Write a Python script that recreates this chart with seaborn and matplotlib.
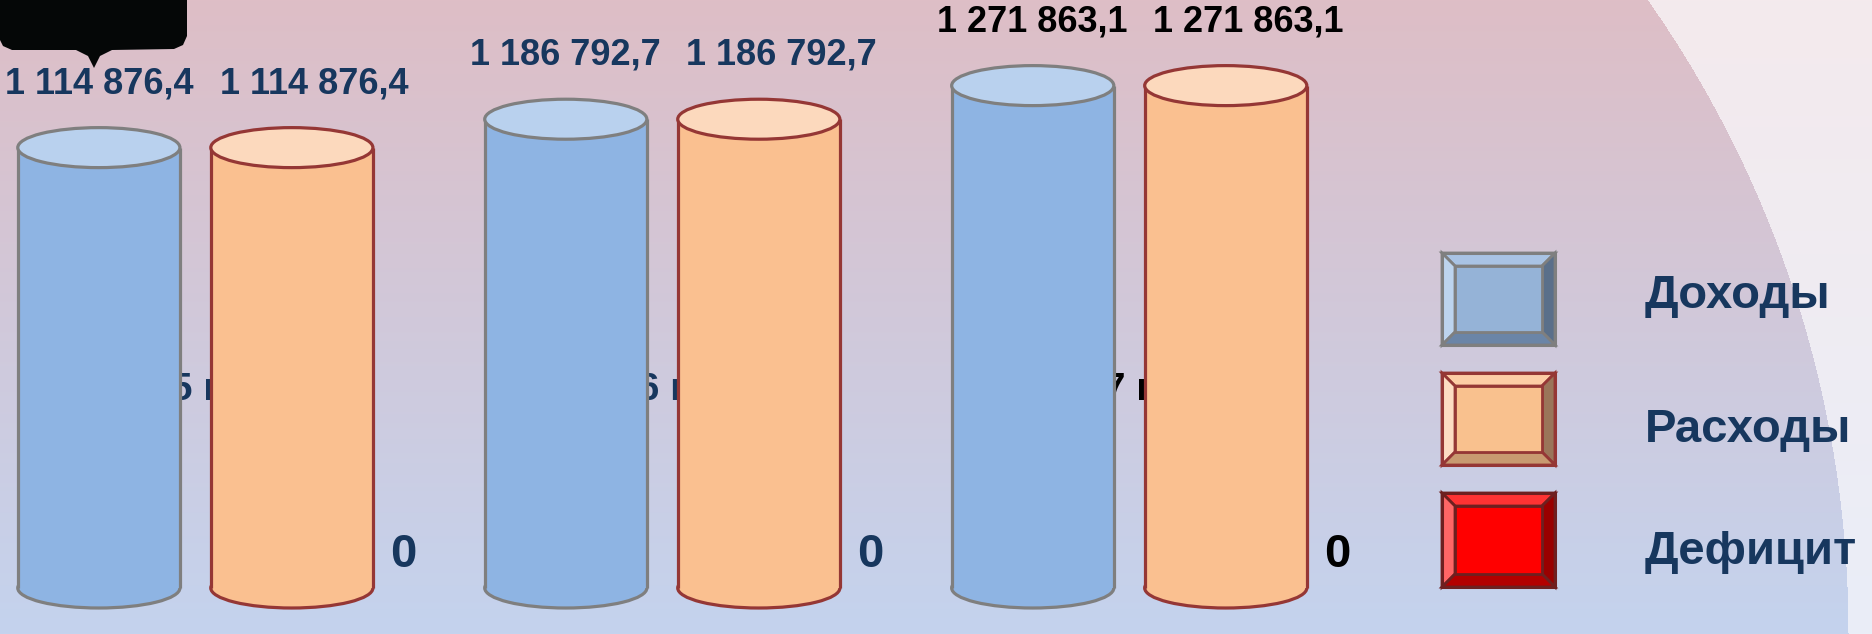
import numpy as np
import pandas as pd
import matplotlib
matplotlib.use("Agg")
from matplotlib import pyplot as plt
from matplotlib.patches import Ellipse, Polygon, Rectangle
from matplotlib.transforms import blended_transform_factory
import seaborn as sns

# --- data ---
years = ["2025 г.", "2026 г.", "2027 г."]
series = ["Доходы", "Расходы", "Дефицит"]
income = [1114876.4, 1186792.7, 1271863.1]
expenses = [1114876.4, 1186792.7, 1271863.1]
deficit = [0.0, 0.0, 0.0]
values = {"Доходы": income, "Расходы": expenses, "Дефицит": deficit}


def fmt(v):
    # russian style number: 1 114 876,4
    if v == 0:
        return "0"
    return f"{v:,.1f}".replace(",", " ").replace(".", ",")


df = pd.DataFrame({
    "Год": years * len(series),
    "Показатель": [s for s in series for _ in years],
    "Сумма": income + expenses + deficit,
})

sns.set_theme(style="white")
plt.rcParams["font.family"] = ["Liberation Sans", "DejaVu Sans"]

W, H = 1872, 634
fig = plt.figure(figsize=(W / 100, H / 100), dpi=100)

# background gradient with light curved area on the right
bg = fig.add_axes([0, 0, 1, 1])
bg.axis("off")
yy, xx = np.mgrid[0:H, 0:W]
t = (yy / (H - 1))[..., None]
img = np.array([222, 190, 198]) / 255 * (1 - t) + np.array([196, 211, 238]) / 255 * t
light = np.array([244, 234, 237]) / 255 * (1 - t) + np.array([234, 238, 248]) / 255 * t
outside = (xx - 748) ** 2 + (yy - 633) ** 2 > 1100 ** 2
img[outside] = light[outside]
bg.imshow(img, extent=(0, W, H, 0), aspect="auto")
bg.set_xlim(0, W)
bg.set_ylim(H, 0)

# main chart
styles = {
    "Доходы": dict(body="#8EB4E3", top="#B9D1EE", edge="#7F7F7F", dx=0),
    "Расходы": dict(body="#FAC090", top="#FCD9BD", edge="#953735", dx=16),
    "Дефицит": dict(body="#FF0000", top="#FF5050", edge="#6B2020", dx=0),
}
label_colors = ["#17375E", "#17375E", "black"]

ax = fig.add_axes([0, 0, 1, 1])
ax.set_facecolor("none")
sns.barplot(data=df, x="Год", y="Сумма", hue="Показатель", hue_order=series,
            palette={k: v["body"] for k, v in styles.items()}, saturation=1,
            width=1.24, gap=0.16, linewidth=0, errorbar=None, legend=False, ax=ax)
ax.set_xlim(-0.625, 3.384)
ymin, ymax = -116456, 1488600
ax.set_ylim(ymin, ymax)
ax.set_axis_off()

eh = 40 * (ymax - ymin) / H  # ellipse height, ~40 px
lw = 2.3

for name, cont in zip(series, ax.containers):
    st = styles[name]
    for i, rect in enumerate(cont.patches):
        x0, w, h = rect.get_x(), rect.get_width(), rect.get_height()
        cx = x0 + w / 2
        v = values[name][i]
        if h <= 0:
            ax.annotate(fmt(v), (x0, 0), xytext=(0, 24), textcoords="offset points",
                        ha="center", va="center", fontsize=34, fontweight="bold",
                        color=label_colors[i], zorder=6)
            continue
        rect.set_zorder(3)
        ax.add_patch(Ellipse((cx, 0), w, eh, fc=st["body"], ec=st["edge"], lw=lw, zorder=2))
        ax.plot([x0, x0], [0, h], color=st["edge"], lw=lw, zorder=4, solid_capstyle="butt")
        ax.plot([x0 + w, x0 + w], [0, h], color=st["edge"], lw=lw, zorder=4, solid_capstyle="butt")
        ax.add_patch(Ellipse((cx, h), w, eh, fc=st["top"], ec=st["edge"], lw=lw, zorder=5))
        ax.annotate(fmt(v), (cx, h), xytext=(st["dx"], 46), textcoords="offset points",
                    ha="center", va="center", fontsize=26, fontweight="bold",
                    color=label_colors[i], zorder=6)

# year labels sit behind the cylinders
trans = blended_transform_factory(ax.transData, ax.transAxes)
for i, yr in enumerate(years):
    ax.text(i - 0.27, 0.385, yr, transform=trans, ha="center", va="center",
            fontsize=28, fontweight="bold", color=label_colors[i], zorder=1)

# overlay in pixel coords: legend and top-left black shape
lg = fig.add_axes([0, 0, 1, 1])
lg.set_xlim(0, W)
lg.set_ylim(H, 0)
lg.axis("off")
lg.set_facecolor("none")

shape = [(0, 0), (187, 0), (187, 36), (183, 45), (174, 49), (112, 50), (100, 56),
         (94, 68), (88, 56), (76, 50), (12, 50), (3, 46), (0, 40)]
lg.add_patch(Polygon(shape, closed=True, fc="#050707", ec="none"))

bevel = {
    "Доходы": dict(face="#95B3D7", top="#A9C3E4", left="#BDD4EE", right="#5A6F8A",
                   bottom="#6B85A7", edge="#7F7F7F"),
    "Расходы": dict(face="#F9C18E", top="#FDCDA5", left="#FDDCC2", right="#9A7559",
                    bottom="#C89A70", edge="#953735"),
    "Дефицит": dict(face="#FF0000", top="#FF3333", left="#FF6666", right="#990000",
                    bottom="#B30000", edge="#6E2020"),
}
box_y = [(253, 345), (373, 465), (493, 587)]
text_y = [296, 430, 552]
bx0, bx1, d = 1442, 1555, 13
for name, (y0, y1), ty in zip(series, box_y, text_y):
    b = bevel[name]
    parts = [
        ([(bx0, y0), (bx1, y0), (bx1 - d, y0 + d), (bx0 + d, y0 + d)], b["top"]),
        ([(bx0, y0), (bx0 + d, y0 + d), (bx0 + d, y1 - d), (bx0, y1)], b["left"]),
        ([(bx1, y0), (bx1, y1), (bx1 - d, y1 - d), (bx1 - d, y0 + d)], b["right"]),
        ([(bx0, y1), (bx1, y1), (bx1 - d, y1 - d), (bx0 + d, y1 - d)], b["bottom"]),
    ]
    for pts, c in parts:
        lg.add_patch(Polygon(pts, closed=True, fc=c, ec=b["edge"], lw=2.0, joinstyle="miter"))
    lg.add_patch(Rectangle((bx0 + d, y0 + d), bx1 - bx0 - 2 * d, y1 - y0 - 2 * d,
                           fc=b["face"], ec=b["edge"], lw=2.0))
    lg.add_patch(Rectangle((bx0, y0), bx1 - bx0, y1 - y0, fc="none", ec=b["edge"], lw=2.2))
    lg.text(1645, ty, name, ha="left", va="center", fontsize=34, fontweight="bold",
            color="#17375E")

fig.savefig("out.png", dpi=100)
